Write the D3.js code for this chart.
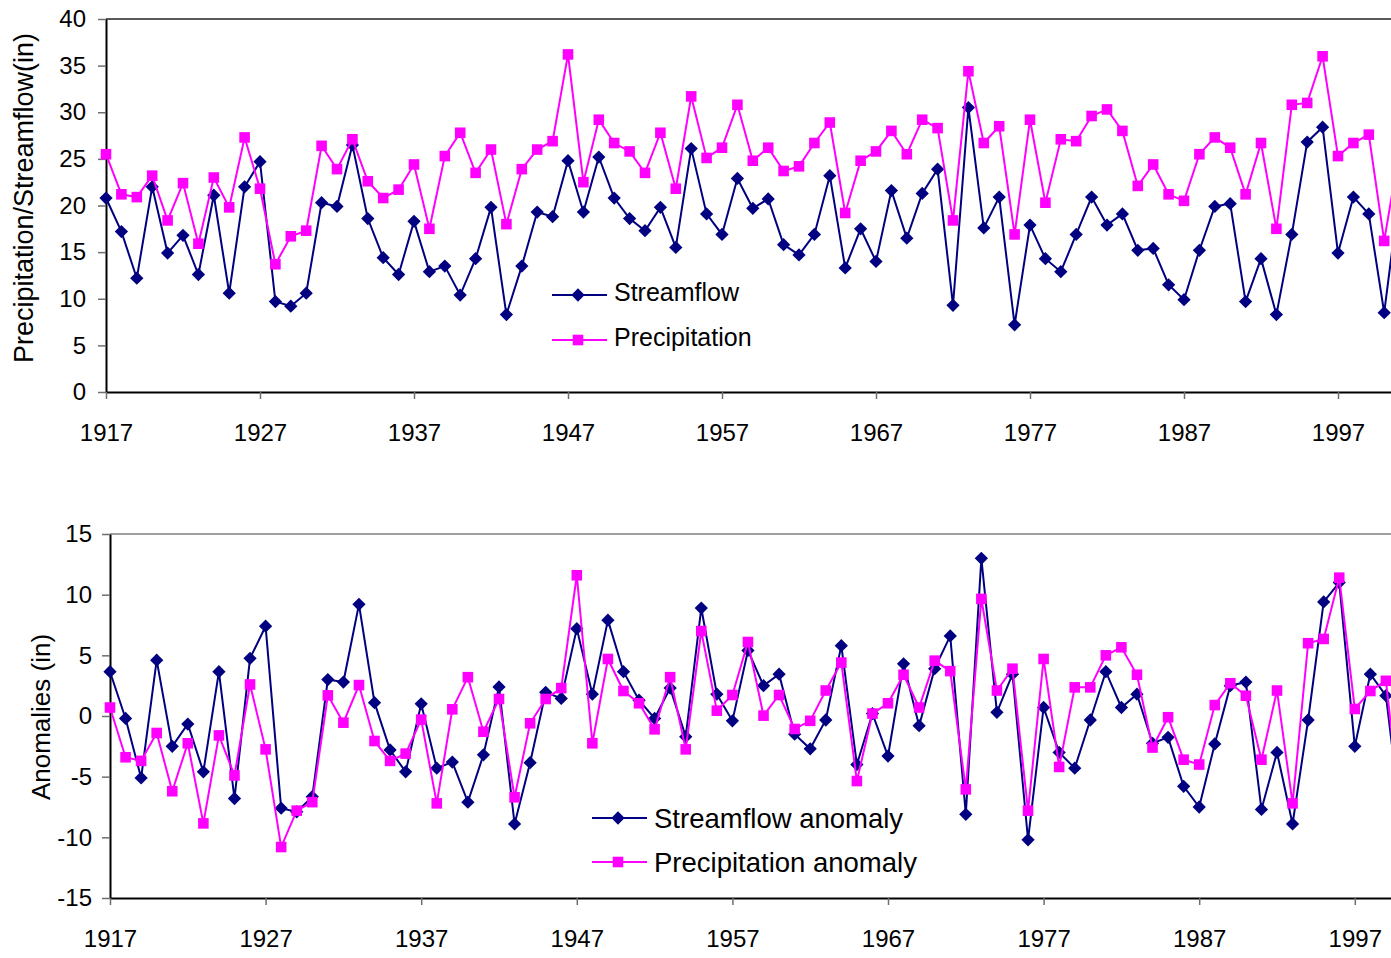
<!DOCTYPE html>
<html>
<head>
<meta charset="utf-8">
<script src="https://cdn.jsdelivr.net/npm/d3@7"></script>
<style>
  html, body { margin: 0; padding: 0; background: #fff; overflow: hidden; }
  svg { display: block; font-family: Arial, "Liberation Sans", sans-serif; }
</style>
</head>
<body>
<svg id="chart" width="1391" height="958"></svg>
<script>
// years 1917-2001 (last ones run past the right edge of the picture)
const years = d3.range(1917, 2002);
const xTickYears = [1917, 1927, 1937, 1947, 1957, 1967, 1977, 1987, 1997];
const topTicks = [0, 5, 10, 15, 20, 25, 30, 35, 40];
const bottomTicks = [-15, -10, -5, 0, 5, 10, 15];

const streamflow = [
  20.8, 17.2, 12.2, 22.0, 14.9, 16.8, 12.6, 21.1, 10.6, 22.0,
  24.7, 9.7, 9.2, 10.6, 20.3, 19.9, 26.5, 18.6, 14.4, 12.6,
  18.3, 12.9, 13.5, 10.4, 14.3, 19.8, 8.3, 13.5, 19.3, 18.8,
  24.8, 19.3, 25.2, 20.8, 18.6, 17.3, 19.8, 15.5, 26.1, 19.1,
  16.9, 22.9, 19.7, 20.7, 15.8, 14.7, 16.9, 23.2, 13.3, 17.5,
  14.0, 21.6, 16.5, 21.3, 23.9, 9.3, 30.5, 17.6, 20.9, 7.2,
  17.9, 14.3, 12.9, 16.9, 20.9, 17.9, 19.1, 15.2, 15.4, 11.5,
  9.9, 15.2, 19.9, 20.2, 9.7, 14.3, 8.3, 16.9, 26.8, 28.4,
  14.9, 20.9, 19.1, 8.5, 21.5
];
const precipitation = [
  25.5, 21.2, 20.9, 23.2, 18.4, 22.4, 15.9, 23.0, 19.8, 27.3,
  21.8, 13.7, 16.7, 17.3, 26.4, 23.9, 27.1, 22.6, 20.8, 21.7,
  24.4, 17.5, 25.3, 27.8, 23.5, 26.0, 18.0, 23.9, 26.0, 26.9,
  36.2, 22.5, 29.2, 26.7, 25.8, 23.5, 27.8, 21.8, 31.7, 25.1,
  26.2, 30.8, 24.8, 26.2, 23.7, 24.2, 26.7, 28.9, 19.2, 24.8,
  25.8, 28.0, 25.5, 29.2, 28.3, 18.4, 34.4, 26.7, 28.5, 16.9,
  29.2, 20.3, 27.1, 26.9, 29.6, 30.3, 28.0, 22.1, 24.4, 21.2,
  20.5, 25.5, 27.3, 26.2, 21.2, 26.7, 17.5, 30.8, 31.0, 36.0,
  25.3, 26.7, 27.6, 16.2, 26.0
];
const streamflowAnomaly = [
  3.65, -0.2, -5.1, 4.6, -2.5, -0.66, -4.6, 3.65, -6.8, 4.75,
  7.4, -7.6, -7.9, -6.65, 3.0, 2.8, 9.2, 1.1, -2.8, -4.6,
  1.0, -4.3, -3.8, -7.1, -3.2, 2.4, -8.9, -3.85, 1.95, 1.45,
  7.2, 1.8, 7.9, 3.65, 1.3, -0.2, 2.3, -1.7, 8.9, 1.8,
  -0.4, 5.4, 2.5, 3.45, -1.5, -2.7, -0.33, 5.8, -4.0, 0.2,
  -3.3, 4.3, -0.8, 3.9, 6.6, -8.1, 13.0, 0.3, 3.45, -10.2,
  0.7, -3.0, -4.3, -0.33, 3.65, 0.7, 1.8, -2.25, -1.76, -5.8,
  -7.5, -2.3, 2.5, 2.8, -7.7, -3.0, -8.9, -0.33, 9.4, 11.0,
  -2.5, 3.45, 1.67, -8.8, 4.2
];
const precipitationAnomaly = [
  0.7, -3.4, -3.7, -1.4, -6.2, -2.25, -8.85, -1.6, -4.9, 2.6,
  -2.75, -10.8, -7.8, -7.1, 1.7, -0.55, 2.55, -2.06, -3.7, -3.1,
  -0.3, -7.2, 0.55, 3.2, -1.3, 1.4, -6.7, -0.6, 1.4, 2.3,
  11.6, -2.25, 4.7, 2.06, 1.05, -1.1, 3.2, -2.75, 7.0, 0.44,
  1.73, 6.1, 0.03, 1.73, -1.07, -0.4, 2.1, 4.4, -5.36, 0.2,
  1.05, 3.4, 0.7, 4.56, 3.7, -6.05, 9.65, 2.1, 3.9, -7.8,
  4.7, -4.2, 2.36, 2.36, 5.0, 5.66, 3.4, -2.6, -0.1, -3.6,
  -4.0, 0.9, 2.7, 1.67, -3.6, 2.1, -7.2, 6.0, 6.35, 11.4,
  0.58, 2.06, 2.9, -8.5, 1.3
];

const navy = "#000080";
const pink = "#ff00ff";
const svg = d3.select("#chart");

// excel style markers: diamond = square turned 45deg
const diamond = d3.symbol().type(d3.symbolSquare).size(88);
const square = d3.symbol().type(d3.symbolSquare).size(112);

function drawPanel(p) {
  const x = d3.scaleLinear().domain([1917, 2002]).range([p.left, p.left + 85 * p.step]);
  const y = d3.scaleLinear().domain(p.yDomain).range([p.bottom, p.top]);
  const g = svg.append("g");

  // plot area top border
  g.append("line")
    .attr("x1", p.left).attr("x2", 1391)
    .attr("y1", p.top).attr("y2", p.top)
    .attr("stroke", p.borderColor).attr("stroke-width", 1.5);

  const yAxis = g.append("g")
    .attr("transform", `translate(${p.left},0)`)
    .call(d3.axisLeft(y).tickValues(p.yTicks).tickFormat(d => String(d))
      .tickSize(8).tickPadding(p.yPad).tickSizeOuter(0));
  const xAxis = g.append("g")
    .attr("transform", `translate(0,${p.bottom})`)
    .call(d3.axisBottom(x).tickValues(xTickYears).tickFormat(d => String(d))
      .tickSize(7).tickPadding(25).tickSizeOuter(0));

  [yAxis, xAxis].forEach(a => {
    a.select(".domain").attr("stroke", "#000").attr("stroke-width", 2);
    a.selectAll(".tick line").attr("stroke", "#6e6e6e").attr("stroke-width", 1.5);
    a.selectAll(".tick text").attr("fill", "#000").style("font-size", "24px")
      .style("font-family", "Arial, 'Liberation Sans', sans-serif");
  });

  // y axis title
  g.append("text")
    .attr("transform", `translate(${p.titleX},${p.titleY}) rotate(-90)`)
    .attr("text-anchor", "middle")
    .style("font-size", p.titleSize + "px")
    .text(p.yTitle);

  const line = d3.line().x((d, i) => x(years[i])).y(d => y(d));

  p.series.forEach(s => {
    g.append("path")
      .datum(s.values)
      .attr("fill", "none")
      .attr("stroke", s.color)
      .attr("stroke-width", 2)
      .attr("d", line);
    g.selectAll(null)
      .data(s.values)
      .enter().append("path")
      .attr("d", s.marker === "diamond" ? diamond : square)
      .attr("fill", s.color)
      .attr("transform", (d, i) => `translate(${x(years[i])},${y(d)})` + (s.marker === "diamond" ? " rotate(45)" : ""));
  });

  // legend
  p.series.forEach((s, k) => {
    const ly = p.legendY + k * p.legendGap;
    const lg = g.append("g");
    lg.append("line")
      .attr("x1", p.legendX).attr("x2", p.legendX + 55)
      .attr("y1", ly).attr("y2", ly)
      .attr("stroke", s.color).attr("stroke-width", 2);
    lg.append("path")
      .attr("d", s.marker === "diamond" ? diamond : square)
      .attr("fill", s.color)
      .attr("transform", `translate(${p.legendX + 26},${ly})` + (s.marker === "diamond" ? " rotate(45)" : ""));
    lg.append("text")
      .attr("x", p.legendX + 62)
      .attr("y", ly + p.legendDy)
      .style("font-size", p.legendSize + "px")
      .text(s.name);
  });
}

drawPanel({
  left: 106, top: 19, bottom: 392, step: 15.4,
  yDomain: [0, 40], yTicks: topTicks, yPad: 12, borderColor: "#222",
  yTitle: "Precipitation/Streamflow(in)", titleX: 33, titleY: 198, titleSize: 27,
  legendX: 552, legendY: 295, legendGap: 45, legendSize: 25, legendDy: 6,
  series: [
    { name: "Streamflow", values: streamflow, color: navy, marker: "diamond" },
    { name: "Precipitation", values: precipitation, color: pink, marker: "square" }
  ]
});

drawPanel({
  left: 110, top: 534, bottom: 898, step: 15.56,
  yDomain: [-15, 15], yTicks: bottomTicks, yPad: 10, borderColor: "#808080",
  yTitle: "Anomalies (in)", titleX: 50, titleY: 717, titleSize: 26,
  legendX: 592, legendY: 818, legendGap: 44, legendSize: 27.5, legendDy: 9.5,
  series: [
    { name: "Streamflow anomaly", values: streamflowAnomaly, color: navy, marker: "diamond" },
    { name: "Precipitation anomaly", values: precipitationAnomaly, color: pink, marker: "square" }
  ]
});
</script>
</body>
</html>
